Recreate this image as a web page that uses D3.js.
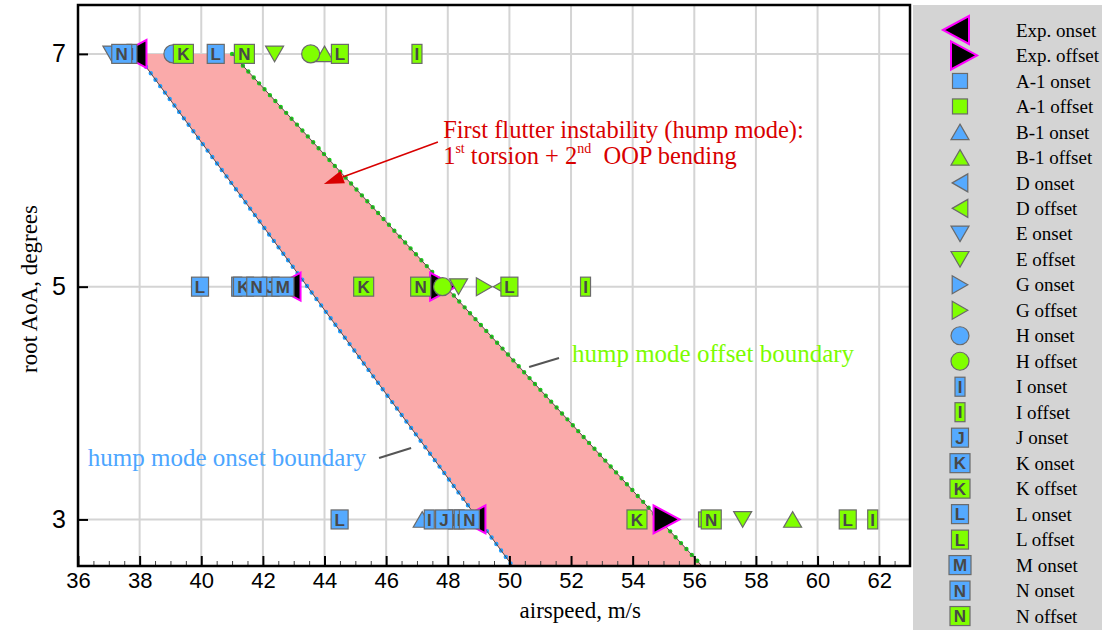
<!DOCTYPE html>
<html>
<head>
<meta charset="utf-8">
<script src="https://cdn.jsdelivr.net/npm/d3@7"></script>
<style>
    body { margin: 0; background: #fff; }
    svg { display: block; font-family: 'Liberation Serif', 'Times New Roman', serif; }
</style>
</head>
<body>
<div id="chart"></div>
<script>
// Tick values
const xTicks = [36, 38, 40, 42, 44, 46, 48, 50, 52, 54, 56, 58, 60, 62]
const yTicks = [3, 5, 7]

// Legend entries, same order as seriesData below
const legendLabels = ['Exp. onset', 'Exp. offset', 'A-1 onset', 'A-1 offset', 'B-1 onset', 'B-1 offset',
    'D onset', 'D offset', 'E onset', 'E offset', 'G onset', 'G offset', 'H onset', 'H offset',
    'I onset', 'I offset', 'J onset', 'K onset', 'K offset', 'L onset', 'L offset', 'M onset',
    'N onset', 'N offset']

// [root AoA (deg), airspeed (m/s)]
const expOnset = [[7, 37.8], [5, 42.8], [3, 48.8]]
const expOffset = [[5, 47.85], [3, 55.1]]
const a1Onset = []
const a1Offset = [[3, 56.38]]
const b1Onset = [[3, 47.17]]
const b1Offset = [[7, 44.0], [3, 59.19]]
const dOnset = []
const dOffset = [[5, 49.73]]
const eOnset = [[7, 37.1]]
const eOffset = [[7, 42.38], [5, 48.35], [3, 57.57]]
const gOnset = []
const gOffset = [[5, 49.18]]
const hOnset = [[7, 39.08]]
const hOffset = [[7, 43.55], [5, 47.83]]
const iOnset = [[7, 37.75], [5, 41.15], [3, 47.4], [3, 48.19], [3, 48.37]]
const iOffset = [[7, 47.0], [5, 52.47], [3, 61.79]]
const jOnset = [[5, 42.25], [3, 47.88]]
const kOnset = [[5, 41.37]]
const kOffset = [[7, 39.42], [5, 45.27], [3, 54.14]]
const lOnset = [[7, 40.47], [5, 39.96], [3, 44.49]]
const lOffset = [[7, 44.5], [5, 50.0], [3, 60.98]]
const mOnset = [[5, 42.65]]
const nOnset = [[7, 37.42], [5, 41.8], [3, 48.7]]
const nOffset = [[7, 41.4], [5, 47.12], [3, 56.55]]

const seriesData = [expOnset, expOffset, a1Onset, a1Offset, b1Onset, b1Offset, dOnset, dOffset,
    eOnset, eOffset, gOnset, gOffset, hOnset, hOffset, iOnset, iOffset, jOnset, kOnset, kOffset,
    lOnset, lOffset, mOnset, nOnset, nOffset]

// Hump mode boundaries, [root AoA, airspeed]
const onsetBoundary = [[7, 37.9], [2.6, 50.1]]
const offsetBoundary = [[7, 41.0], [2.6, 56.25]]

const BLUE = '#55aaff'
const GREEN = '#80ff00'
const letterWidth = {I: 10, J: 17, K: 20, L: 17, M: 22, N: 20}

function drawMarker(g, label) {
    const [code, kind] = label.split(' ')
    const fill = kind === 'onset' ? BLUE : GREEN
    const tri = pts => 'M' + pts.map(p => p.join(',')).join('L') + 'Z'

    if (code === 'Exp.') {
        const pts = kind === 'onset' ? [[-13, 0], [13, -14], [13, 14]] : [[13, 0], [-13, -14], [-13, 14]]
        g.append('path').attr('d', tri(pts))
            .attr('fill', '#000').attr('stroke', '#ff00ff').attr('stroke-width', 2)
        return
    }

    const stroke = '#6a6a6a'
    let shape
    if (code === 'A-1') {
        shape = g.append('rect').attr('x', -7.5).attr('y', -7.5).attr('width', 15).attr('height', 15)
    } else if (code === 'H') {
        shape = g.append('circle').attr('r', 9)
    } else if (['B-1', 'D', 'E', 'G'].includes(code)) {
        const h = 7.8, w = 9
        const pts = {
            'B-1': [[0, -h], [w, h], [-w, h]],
            'E': [[0, h], [w, -h], [-w, -h]],
            'D': [[-h, 0], [h, -w], [h, w]],
            'G': [[h, 0], [-h, -w], [-h, w]]
        }[code]
        shape = g.append('path').attr('d', tri(pts))
    } else {
        const w = letterWidth[code]
        g.append('rect').attr('x', -w / 2).attr('y', -9.5).attr('width', w).attr('height', 19)
            .attr('fill', fill).attr('stroke', stroke).attr('stroke-width', 1.2)
        g.append('text').attr('text-anchor', 'middle').attr('dy', '0.37em')
            .style('font-family', "'Liberation Sans', Arial, sans-serif")
            .style('font-weight', 'bold').style('font-size', '17px')
            .attr('fill', '#484848').text(code)
        return
    }
    shape.attr('fill', fill).attr('stroke', stroke).attr('stroke-width', 1.2)
}

class FlutterChart {
    constructor(_config) {
        this.config = {
            parentElement: _config.parentElement,
            containerWidth: _config.containerWidth,
            containerHeight: _config.containerHeight,
            margin: {top: 5, right: 192, bottom: 64, left: 78},
            legendLeft: 913,
            legendTop: 30,
            legendStep: 25.48
        }
        this.initVis()
    }

    initVis() {
        let vis = this
        const m = vis.config.margin
        vis.width = vis.config.containerWidth - m.left - m.right
        vis.height = vis.config.containerHeight - m.top - m.bottom

        vis.svg = d3.select(vis.config.parentElement).append('svg')
            .attr('width', vis.config.containerWidth)
            .attr('height', vis.config.containerHeight)

        vis.chart = vis.svg.append('g')
            .attr('transform', `translate(${m.left},${m.top})`)

        vis.x = d3.scaleLinear().domain([36, 63]).range([0, vis.width])
        vis.y = d3.scaleLinear().domain([2.6, 7.42]).range([vis.height, 0])

        vis.svg.append('defs').append('clipPath').attr('id', 'plot-clip')
            .append('rect').attr('width', vis.width).attr('height', vis.height)

        vis.renderVis()
        vis.renderLegend()
    }

    renderVis() {
        let vis = this
        const x = vis.x, y = vis.y

        // Grid
        const grid = vis.chart.append('g').attr('stroke', '#d4d4d4').attr('stroke-width', 2)
        grid.selectAll('.vgrid').data(xTicks.slice(1)).join('line')
            .attr('x1', d => x(d)).attr('x2', d => x(d)).attr('y1', 0).attr('y2', vis.height)
        grid.selectAll('.hgrid').data(yTicks).join('line')
            .attr('x1', 0).attr('x2', vis.width).attr('y1', d => y(d)).attr('y2', d => y(d))

        const plot = vis.chart.append('g').attr('clip-path', 'url(#plot-clip)')

        // Hump mode band
        const line = d3.line().x(d => x(d[1])).y(d => y(d[0]))
        const band = [onsetBoundary[0], offsetBoundary[0], offsetBoundary[1], onsetBoundary[1]]
        plot.append('path').attr('d', line(band) + 'Z').attr('fill', '#faaaaa')

        ;[[onsetBoundary, '#1e9eff'], [offsetBoundary, '#18cc18']].forEach(([pts, col]) => {
            plot.append('path').attr('d', line(pts)).attr('stroke', col)
                .attr('stroke-width', 4.4).attr('stroke-linecap', 'round')
                .attr('stroke-dasharray', '0 8').attr('fill', 'none')
            plot.append('path').attr('d', line(pts)).attr('stroke', '#5a4a4a')
                .attr('stroke-width', 1).attr('fill', 'none')
        })

        // Axes (ticks point inward)
        const xAxis = vis.chart.append('g').attr('transform', `translate(0,${vis.height})`)
            .call(d3.axisBottom(x).tickValues(xTicks).tickSize(-10).tickPadding(6).tickFormat(d3.format('d')))
        const xMinor = vis.chart.append('g').attr('transform', `translate(0,${vis.height})`)
            .call(d3.axisBottom(x).tickValues(d3.range(36.5, 63, 0.5).filter(d => d % 2 !== 0))
                .tickSize(-5).tickFormat(''))
        const yAxis = vis.chart.append('g')
            .call(d3.axisLeft(y).tickValues(yTicks).tickSize(-10).tickPadding(12).tickFormat(d3.format('d')))

        ;[xAxis, xMinor, yAxis].forEach(a => a.select('.domain').remove())
        xAxis.selectAll('line').attr('stroke', '#000').attr('stroke-width', 2)
        yAxis.selectAll('line').attr('stroke', '#000').attr('stroke-width', 2)
        xMinor.selectAll('line').attr('stroke', '#444').attr('stroke-width', 1)
        xAxis.selectAll('text').style('font-family', 'inherit').style('font-size', '22px').attr('fill', '#000')
        yAxis.selectAll('text').style('font-family', 'inherit').style('font-size', '25px').attr('fill', '#000')

        // Markers: exp first, then legend order
        legendLabels.forEach((label, i) => {
            seriesData[i].forEach(d => {
                const g = vis.chart.append('g').attr('transform', `translate(${x(d[1])},${y(d[0])})`)
                drawMarker(g, label)
            })
        })

        // Frame
        vis.chart.append('rect').attr('width', vis.width).attr('height', vis.height)
            .attr('fill', 'none').attr('stroke', '#000').attr('stroke-width', 2.5)

        // Axis titles
        vis.chart.append('text').attr('x', x(52.3)).attr('y', vis.height + 52)
            .attr('text-anchor', 'middle').style('font-size', '23px').text('airspeed, m/s')
        vis.svg.append('text')
            .attr('transform', `translate(37,${vis.config.margin.top + y(4.98)}) rotate(-90)`)
            .attr('text-anchor', 'middle').style('font-size', '23px').text('root AoA, degrees')

        vis.renderAnnotations()
    }

    renderAnnotations() {
        let vis = this
        const x = vis.x, y = vis.y
        const red = '#d80000'

        // Arrow pointing into the band
        const from = [x(47.68), y(6.243)], to = [x(43.98), y(5.882)]
        const ang = Math.atan2(to[1] - from[1], to[0] - from[0])
        const len = 20, hw = 6.5
        const base = [to[0] - len * Math.cos(ang), to[1] - len * Math.sin(ang)]
        vis.chart.append('line').attr('x1', from[0]).attr('y1', from[1])
            .attr('x2', base[0]).attr('y2', base[1]).attr('stroke', red).attr('stroke-width', 1.6)
        vis.chart.append('path').attr('fill', red).attr('d', 'M' + to.join(',') +
            'L' + [base[0] + hw * Math.sin(ang), base[1] - hw * Math.cos(ang)].join(',') +
            'L' + [base[0] - hw * Math.sin(ang), base[1] + hw * Math.cos(ang)].join(',') + 'Z')

        const t1 = vis.chart.append('text').attr('x', x(47.85)).attr('y', y(6.277))
            .attr('fill', red).style('font-size', '24.5px')
        t1.text('First flutter instability (hump mode):')
        const t2 = vis.chart.append('text').attr('x', x(47.85)).attr('y', y(6.054))
            .attr('fill', red).style('font-size', '24.5px')
        t2.append('tspan').text('1')
        t2.append('tspan').attr('dy', -11).style('font-size', '14px').text('st')
        t2.append('tspan').attr('dy', 11).text(' torsion + 2')
        t2.append('tspan').attr('dy', -11).style('font-size', '14px').text('nd')
        t2.append('tspan').attr('dy', 11).text('\u00a0 OOP bending')

        // Boundary labels with leader lines
        vis.chart.append('text').attr('x', x(52.03)).attr('y', y(4.353))
            .attr('fill', '#7cfc00').style('font-size', '25px').text('hump mode offset boundary')
        vis.chart.append('line').attr('x1', x(50.64)).attr('y1', y(4.31))
            .attr('x2', x(51.61)).attr('y2', y(4.387)).attr('stroke', '#555').attr('stroke-width', 2)

        vis.chart.append('text').attr('x', x(36.32)).attr('y', y(3.459))
            .attr('fill', '#4da6ff').style('font-size', '25px').text('hump mode onset boundary')
        vis.chart.append('line').attr('x1', x(45.77)).attr('y1', y(3.528))
            .attr('x2', x(46.81)).attr('y2', y(3.614)).attr('stroke', '#555').attr('stroke-width', 2)
    }

    renderLegend() {
        let vis = this
        const c = vis.config

        vis.svg.append('rect').attr('x', c.legendLeft).attr('y', c.margin.top)
            .attr('width', c.containerWidth - c.legendLeft).attr('height', c.containerHeight - c.margin.top)
            .attr('fill', '#d4d4d4')

        const items = vis.svg.selectAll('.legend-item').data(legendLabels).join('g')
            .attr('class', 'legend-item')
            .attr('transform', (d, i) => `translate(${c.legendLeft}, ${c.legendTop + i * c.legendStep})`)

        // big exp. triangles sit a little off the marker column
        const nudge = {'Exp. onset': -4, 'Exp. offset': 4}
        items.each(function (d) {
            const g = d3.select(this).append('g').attr('transform', `translate(${47 + (nudge[d] || 0)},0)`)
            drawMarker(g, d)
        })

        items.append('text').attr('x', 103).attr('dy', '0.35em')
            .style('font-size', '19px').attr('fill', '#000').text(d => d)
    }
}

new FlutterChart({parentElement: '#chart', containerWidth: 1102, containerHeight: 630})
</script>
</body>
</html>
